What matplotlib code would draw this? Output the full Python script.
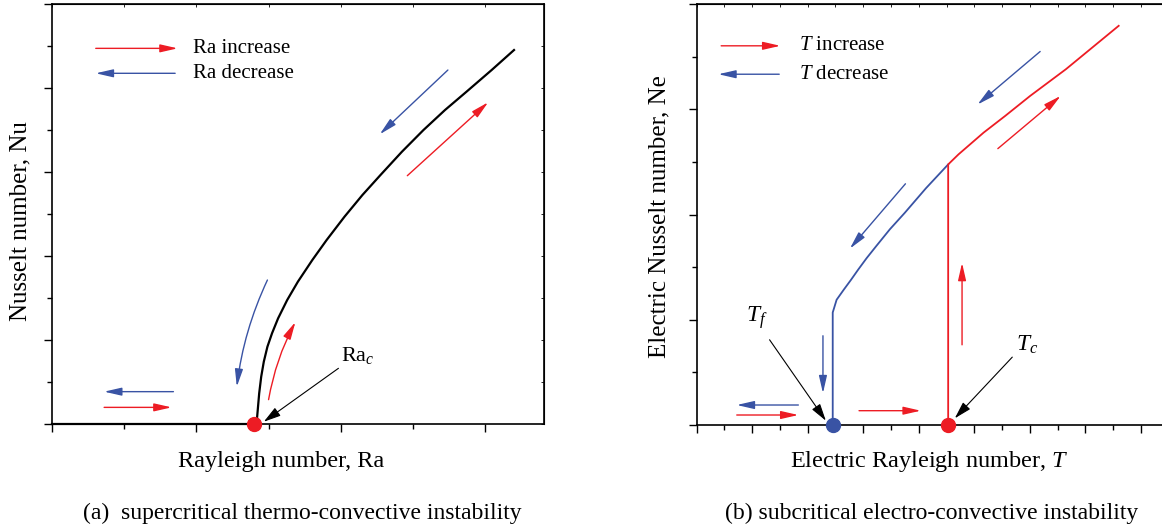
import matplotlib
matplotlib.use('Agg')
import matplotlib.pyplot as plt
import numpy as np

plt.rcParams['font.family'] = ['Liberation Serif', 'DejaVu Serif']
plt.rcParams['mathtext.fontset'] = 'custom'
plt.rcParams['mathtext.rm'] = 'Liberation Serif'
plt.rcParams['mathtext.it'] = 'Liberation Serif:italic'

RED = '#ed1c24'
BLUE = '#3953a4'

# ---- panel (a): supercritical, one branch
ra_flat_x = [0.0, 1.40]
ra_flat_y = [0.0, 0.0]
ra_curve_x = [1.40, 1.417, 1.425, 1.435, 1.449, 1.467, 1.492, 1.524, 1.566, 1.629, 1.703,
              1.803, 1.902, 2.026, 2.150, 2.275, 2.424, 2.573, 2.722, 2.871, 3.045, 3.200]
ra_curve_y = [0.0, 0.008, 0.167, 0.365, 0.563, 0.742, 0.920, 1.080, 1.258, 1.476, 1.694,
              1.952, 2.190, 2.468, 2.726, 2.964, 3.242, 3.500, 3.738, 3.956, 4.214, 4.452]
ra_crit = (1.40, 0.0)

# arrows (start x, start y, end x, end y, colour, curvature)
a_arrows = [
    (0.303, 4.472, 0.870, 4.472, RED, 0.0),
    (0.853, 4.175, 0.303, 4.175, BLUE, 0.0),
    (2.742, 4.214, 2.270, 3.449, BLUE, 0.0),
    (2.461, 2.956, 3.021, 3.830, RED, 0.0),
    (1.492, 1.714, 1.280, 0.444, BLUE, 0.08),
    (1.500, 0.290, 1.686, 1.214, RED, -0.08),
    (0.841, 0.385, 0.361, 0.385, BLUE, 0.0),
    (0.361, 0.198, 0.828, 0.198, RED, 0.0),
]
a_legend = [('Ra increase', 0.977, 4.472), ('Ra decrease', 0.977, 4.175)]

# ---- panel (b): subcritical, hysteresis loop
t_blue_x = [2.45, 2.45, 2.52, 2.649, 2.780, 2.908, 3.060, 3.231, 3.480, 3.748, 4.130, 4.53]
t_blue_y = [0.0, 1.069, 1.190, 1.286, 1.380, 1.476, 1.585, 1.698, 1.860, 2.016, 2.250, 2.476]
t_red_x = [4.53, 4.53, 4.715, 5.168, 5.555, 6.007, 6.652, 7.602]
t_red_y = [0.0, 2.476, 2.571, 2.778, 2.936, 3.127, 3.381, 3.793]
t_f = (2.45, 0.0)
t_c = (4.53, 0.0)

b_arrows = [
    (0.440, 3.603, 1.506, 3.603, RED, 0.0),
    (1.486, 3.333, 0.389, 3.333, BLUE, 0.0),
    (6.187, 3.549, 5.058, 3.045, BLUE, 0.0),
    (5.425, 2.626, 6.557, 3.127, RED, 0.0),
    (3.760, 2.292, 2.759, 1.676, BLUE, 0.0),
    (4.780, 0.762, 4.780, 1.540, RED, 0.0),
    (2.274, 0.848, 2.274, 0.302, BLUE, 0.0),
    (1.831, 0.190, 0.721, 0.190, BLUE, 0.0),
    (0.721, 0.095, 1.831, 0.095, RED, 0.0),
    (2.924, 0.136, 4.036, 0.136, RED, 0.0),
]
b_legend = [('$T$ increase', 1.841, 3.603), ('$T$ decrease', 1.841, 3.333)]


def draw_arrows(ax, arrows):
    for x0, y0, x1, y1, col, rad in arrows:
        ax.annotate('', xy=(x1, y1), xytext=(x0, y0),
                    arrowprops=dict(arrowstyle='-|>,head_length=0.7,head_width=0.16',
                                    mutation_scale=15, color=col, lw=1.0,
                                    shrinkA=0, shrinkB=0,
                                    connectionstyle=f'arc3,rad={rad}'))


def style_axes(ax, xmajor, xminor, ymajor, yminor):
    ax.set_xticks(xmajor)
    ax.set_xticks(xminor, minor=True)
    ax.set_yticks(ymajor)
    ax.set_yticks(yminor, minor=True)
    ax.tick_params(which='major', direction='out', length=5.5, width=1.0,
                   labelbottom=False, labelleft=False)
    ax.tick_params(which='minor', direction='out', length=3.3, width=1.0)
    for s in ax.spines.values():
        s.set_linewidth(1.2)
    top = ax.secondary_xaxis('top')
    top.set_xticks(list(xmajor) + list(xminor))
    top.tick_params(direction='in', length=2, width=0.6, labeltop=False)
    right = ax.secondary_yaxis('right')
    right.set_yticks(list(ymajor) + list(yminor))
    right.tick_params(direction='in', length=2, width=0.6, labelright=False)


fig = plt.figure(figsize=(11.62, 5.30), dpi=100)

# panel (a)
ax1 = fig.add_axes([0.04475, 0.2, 0.4232, 0.79245])
ax1.set_xlim(0, 3.406)
ax1.set_ylim(0, 5)
style_axes(ax1, np.arange(0, 3.5, 1.0), np.arange(0.5, 3.5, 1.0),
           np.arange(0, 5.1, 1.0), np.arange(0.5, 5.0, 1.0))
ax1.plot(ra_flat_x, ra_flat_y, color='black', lw=1.6, clip_on=False, zorder=3)
ax1.plot(ra_curve_x, ra_curve_y, color='black', lw=1.6, zorder=3)
draw_arrows(ax1, a_arrows)
for txt, x, y in a_legend:
    ax1.text(x, y, txt, fontsize=15, va='center', ha='left')
ax1.text(2.0, 0.82, 'Ra$_c$', fontsize=16, va='center', ha='left')
ax1.annotate('', xy=(1.467, 0.027), xytext=(1.984, 0.663),
             arrowprops=dict(arrowstyle='-|>,head_length=0.7,head_width=0.2',
                             mutation_scale=15, color='black', lw=0.8,
                             shrinkA=0, shrinkB=0))
ax1.plot(*ra_crit, 'o', color=RED, ms=10, clip_on=False, zorder=5)

# panel (b)
ax2 = fig.add_axes([0.5996, 0.1981, 0.4108, 0.7943])
ax2.set_xlim(0, 8.6)
ax2.set_ylim(0, 4.0)
style_axes(ax2, np.arange(0, 8.7, 1.0), np.arange(0.5, 8.7, 1.0),
           np.arange(0, 4.1, 1.0), np.arange(0.5, 4.0, 1.0))
ax2.plot(t_blue_x, t_blue_y, color=BLUE, lw=1.3, zorder=3)
ax2.plot(t_red_x, t_red_y, color=RED, lw=1.3, zorder=3)
draw_arrows(ax2, b_arrows)
for txt, x, y in b_legend:
    ax2.text(x, y, txt, fontsize=15, va='center', ha='left')
ax2.text(1.086, 1.02, '$T_f$', fontsize=17, va='center', ha='center')
ax2.text(5.951, 0.76, '$T_c$', fontsize=17, va='center', ha='center')
ax2.annotate('', xy=(2.326, 0.041), xytext=(1.312, 0.81),
             arrowprops=dict(arrowstyle='-|>,head_length=0.7,head_width=0.2',
                             mutation_scale=15, color='black', lw=0.8,
                             shrinkA=0, shrinkB=0))
ax2.annotate('', xy=(4.65, 0.064), xytext=(5.685, 0.645),
             arrowprops=dict(arrowstyle='-|>,head_length=0.7,head_width=0.2',
                             mutation_scale=15, color='black', lw=0.8,
                             shrinkA=0, shrinkB=0))
ax2.plot(*t_f, 'o', color=BLUE, ms=10, clip_on=False, zorder=5)
ax2.plot(*t_c, 'o', color=RED, ms=10, clip_on=False, zorder=5)

# labels and captions
fig.text(281 / 1162, 1 - 462 / 530, 'Rayleigh number, Ra', fontsize=17.5, ha='center', va='center')
fig.text(20 / 1162, 1 - 221 / 530, 'Nusselt number, Nu', fontsize=18, rotation=90, ha='center', va='center')
fig.text(302 / 1162, 1 - 513 / 530, '(a)  supercritical thermo-convective instability',
         fontsize=17, ha='center', va='center')
fig.text(929 / 1162, 1 - 462 / 530, 'Electric Rayleigh number, $T$', fontsize=17.5, ha='center', va='center')
fig.text(659 / 1162, 1 - 217 / 530, 'Electric Nusselt number, Ne', fontsize=18, rotation=90, ha='center', va='center')
fig.text(932 / 1162, 1 - 513 / 530, '(b) subcritical electro-convective instability',
         fontsize=17, ha='center', va='center')

fig.savefig('out.png', dpi=100)
